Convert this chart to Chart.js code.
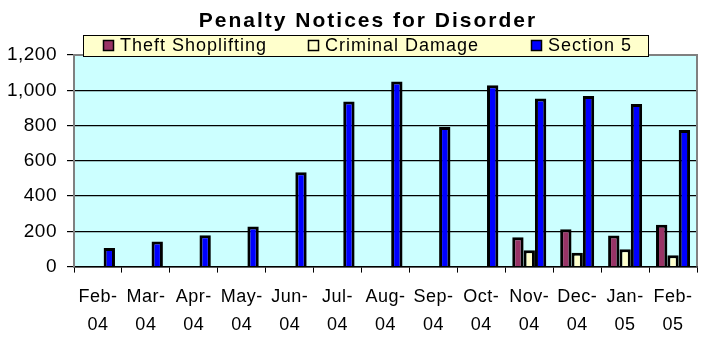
<!DOCTYPE html>
<html>
<head>
<meta charset="utf-8">
<script src="https://cdn.jsdelivr.net/npm/chart.js@4/dist/chart.umd.min.js"></script>
<style>
  html, body { margin: 0; padding: 0; background: #fff; }
</style>
</head>
<body>
<canvas id="chart" width="705" height="339"></canvas>
<script>
const chartTitle = 'Penalty Notices for Disorder';
const months = [
    ['Feb-', '04'], ['Mar-', '04'], ['Apr-', '04'], ['May-', '04'], ['Jun-', '04'],
    ['Jul-', '04'], ['Aug-', '04'], ['Sep-', '04'], ['Oct-', '04'], ['Nov-', '04'],
    ['Dec-', '04'], ['Jan-', '05'], ['Feb-', '05']
];
const theftShoplifting = [null, null, null, null, null, null, null, null, null, 167, 212, 176, 238];
const criminalDamage = [null, null, null, null, null, null, null, null, null, 93, 79, 98, 65];
const section5 = [105, 143, 178, 228, 535, 937, 1050, 791, 1028, 954, 967, 922, 774];
const yMin = 0, yMax = 1200, yStep = 200;

const FONT = '"Liberation Sans", Arial, sans-serif';

// plot background, letter spacing for the axis text
const plotBack = {
    id: 'plotBack',
    beforeUpdate(chart) { chart.ctx.letterSpacing = '0.5px'; },
    beforeDraw(chart) {
        const { ctx, chartArea: a } = chart;
        ctx.letterSpacing = '0.5px';
        ctx.save();
        ctx.fillStyle = '#CCFFFF';
        ctx.fillRect(a.left, a.top, a.right - a.left, a.bottom - a.top);
        ctx.restore();
    },
    afterDatasetsDraw(chart) {
        const { ctx, chartArea: a } = chart;
        ctx.save();
        ctx.strokeStyle = '#808080';
        ctx.lineWidth = 2;
        ctx.beginPath();
        ctx.moveTo(a.left, a.top);
        ctx.lineTo(a.right, a.top);
        ctx.lineTo(a.right, a.bottom);
        ctx.stroke();
        ctx.restore();
    }
};

// title and boxed legend drawn over the top of the plot
const titleLegend = {
    id: 'titleLegend',
    afterDraw(chart) {
        const ctx = chart.ctx;
        ctx.save();
        ctx.letterSpacing = '2px';
        ctx.fillStyle = '#000';
        ctx.font = 'bold 21px ' + FONT;
        ctx.textAlign = 'center';
        ctx.textBaseline = 'middle';
        ctx.fillText(chartTitle, 368, 21);

        ctx.fillStyle = '#FFFFCC';
        ctx.fillRect(83, 35, 565, 21);
        ctx.strokeStyle = '#000';
        ctx.lineWidth = 1;
        ctx.strokeRect(83.5, 35.5, 565, 21);

        const boxX = [103, 308, 531];
        ctx.font = '18px ' + FONT;
        ctx.letterSpacing = '1px';
        ctx.textAlign = 'left';
        chart.data.datasets.forEach((ds, i) => {
            ctx.fillStyle = ds.backgroundColor;
            ctx.fillRect(boxX[i], 40, 11, 11);
            ctx.lineWidth = 1.5;
            ctx.strokeRect(boxX[i] + 0.5, 40.5, 10, 10);
            ctx.fillStyle = '#000';
            ctx.fillText(ds.label, boxX[i] + 17, 46.5);
        });
        ctx.restore();
    }
};

new Chart(document.getElementById('chart'), {
    type: 'bar',
    data: {
        labels: months,
        datasets: [
            { label: 'Theft Shoplifting', data: theftShoplifting, backgroundColor: '#993366' },
            { label: 'Criminal Damage', data: criminalDamage, backgroundColor: '#FFFFCC' },
            { label: 'Section 5', data: section5, backgroundColor: '#0000FF' }
        ]
    },
    options: {
        responsive: false,
        animation: false,
        events: [],
        layout: { padding: { top: 55, right: 8, left: 0, bottom: 0 } },
        datasets: {
            bar: {
                borderColor: '#000',
                borderWidth: 3,
                borderSkipped: 'bottom',
                categoryPercentage: 0.71,
                barPercentage: 1.0
            }
        },
        plugins: {
            legend: { display: false },
            title: { display: false },
            tooltip: { enabled: false }
        },
        scales: {
            x: {
                grid: { offset: true, drawOnChartArea: false, tickLength: 6, color: '#000' },
                border: { color: '#000', width: 1.5 },
                ticks: {
                    color: '#000',
                    padding: 10,
                    maxRotation: 0,
                    autoSkip: false,
                    font: { family: FONT, size: 18, lineHeight: '28px' }
                },
                afterFit(scale) { scale.height = 72.4; }
            },
            y: {
                min: yMin,
                max: yMax,
                grid: {
                    color: ctx => (ctx.tick && ctx.tick.value === yMax) ? '#808080' : '#000',
                    tickColor: '#000',
                    tickLength: 7,
                    lineWidth: 1.2
                },
                border: { color: '#808080', width: 2 },
                ticks: {
                    stepSize: yStep,
                    color: '#000',
                    padding: 10,
                    font: { family: FONT, size: 19 },
                    callback: v => v.toLocaleString('en-US')
                },
                afterFit(scale) { scale.width = 74; }
            }
        }
    },
    plugins: [plotBack, titleLegend]
});
</script>
</body>
</html>
